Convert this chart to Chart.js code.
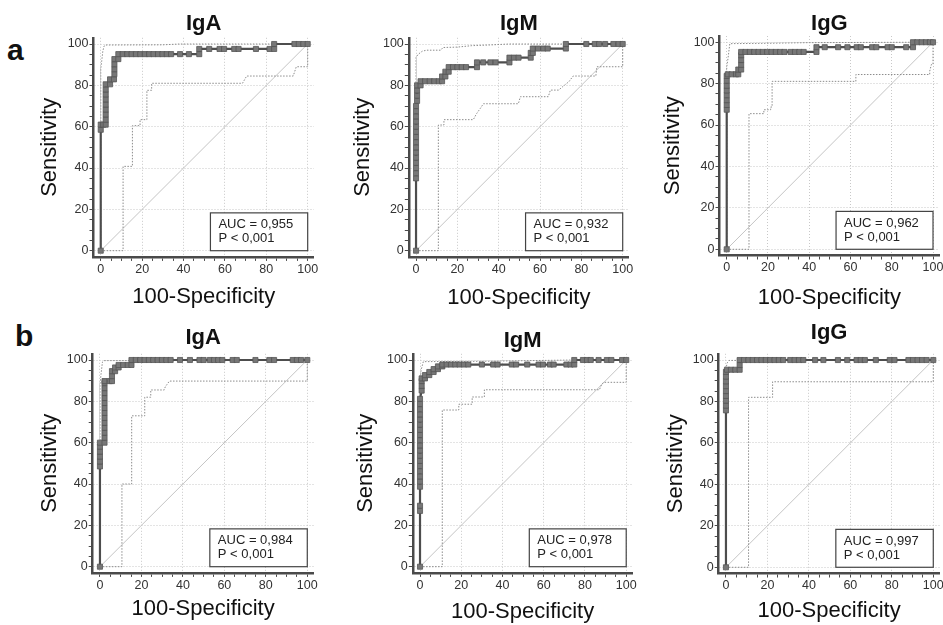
<!DOCTYPE html>
<html>
<head>
<meta charset="utf-8">
<script src="https://cdn.jsdelivr.net/npm/chart.js@4.4.1/dist/chart.umd.min.js"></script>
<style>
  html, body { margin: 0; padding: 0; background: #fff; }
  body { width: 943px; height: 625px; position: relative; overflow: hidden; font-family: "Liberation Sans", Arial, sans-serif; }
  canvas { position: absolute; }
  .tag { position: absolute; font-weight: bold; font-size: 30px; line-height: 1; color: #111; }
</style>
</head>
<body>
<div class="tag" style="left:7px; top:35px;">a</div>
<div class="tag" style="left:15px; top:321px;">b</div>
<script>
/***** data *****/
var titles = ['IgA', 'IgM', 'IgG'];
var aucRowA = ['0,955', '0,932', '0,962'];
var aucRowB = ['0,984', '0,978', '0,997'];
var pLabel = 'P < 0,001';
var majorTicks = [0, 20, 40, 60, 80, 100];
var diagonal = [[0, 0], [100, 100]];

// row a
var rocIgA_a = [[0,0],[0,58.5],[0,61],[1.2,61],[2.4,61],[2.4,63.4],[2.4,65.9],[2.4,68.3],[2.4,70.7],[2.4,73.2],[2.4,75.6],[2.4,78],[2.4,80.5],[4.5,80.5],[4.5,82.9],[6.4,82.9],[6.6,85.4],[6.6,87.8],[6.6,90.2],[6.6,92.7],[8.5,92.7],[8.5,95.1],[10.6,95.1],[12.8,95.1],[14.9,95.1],[17,95.1],[19.1,95.1],[21.3,95.1],[23.4,95.1],[25.5,95.1],[27.7,95.1],[29.8,95.1],[31.9,95.1],[34,95.1],[38.3,95.1],[42.6,95.1],[47.6,95.1],[47.6,97.6],[52.4,97.6],[57.4,97.6],[59.6,97.6],[64.5,97.6],[66.6,97.6],[75,97.6],[81.6,97.6],[83.8,97.6],[83.8,100],[93.6,100],[95.7,100],[97.9,100],[100,100]];
var upIgA_a = [[0,0],[0,88],[0.5,92],[1,96.5],[1.6,99],[2.5,99.5],[30,99.6],[38,100],[100,100]];
var loIgA_a = [[0,0],[10.8,0],[10.8,40.8],[15.3,40.8],[15.3,60.5],[19,60.5],[19,63.4],[22.3,63.4],[22.3,77.6],[24.6,77.6],[24.6,81],[68.5,81],[70.5,84.5],[93,84.5],[94.5,89],[100,89],[100,100]];

var rocIgM_a = [[0,0],[0,35],[0,37.5],[0,40],[0,42.5],[0,45],[0,47.5],[0,50],[0,52.5],[0,55],[0,57.5],[0,60],[0,62.5],[0,65],[0,67.5],[0,70],[0.5,72.5],[0.5,75],[0.5,77.5],[0.5,80],[2.2,80],[2.2,82],[4.4,82],[6.6,82],[8.8,82],[11,82],[12.6,82],[12.6,84.3],[14.2,84.3],[14.2,86.6],[15.8,86.6],[15.8,88.8],[17.9,88.8],[20,88.8],[22.1,88.8],[24.2,88.8],[29.5,88.8],[29.5,91.1],[32.5,91.1],[36,91.1],[38.5,91.1],[45.2,91.1],[45.2,93.4],[47.4,93.4],[49.6,93.4],[55.5,93.4],[55.5,95.7],[56.5,95.7],[56.5,97.8],[59,97.8],[61.6,97.8],[63.7,97.8],[72.5,97.8],[72.5,100],[82.4,100],[86.5,100],[88.6,100],[91.5,100],[95.5,100],[98,100],[100,100]];
var upIgM_a = [[0,0],[0,93.5],[1,95],[3,96.5],[5,97],[12,97],[13,98.3],[20,98.5],[27,99.2],[35,99.5],[45,100],[100,100]];
var loIgM_a = [[0,0],[10.8,0],[10.8,60.8],[13.5,60.8],[13.5,63.4],[27.7,63.4],[29.3,66.3],[31,68.7],[32.6,71.1],[49.5,71.1],[50.5,74.5],[64,74.5],[65,77.7],[69,77.7],[71,79.4],[74,81.8],[76,84.5],[87,84.5],[87.5,89],[100,89],[100,100]];

var rocIgG_a = [[0,0],[0,67.4],[0,69.7],[0,72],[0,74.4],[0,76.7],[0,79],[0,81.4],[0,83.7],[0.5,84.5],[2.4,84.5],[4.5,84.5],[5.6,84.5],[5.6,86.8],[7,86.8],[7,89.1],[7,91.4],[7,93.7],[7,95.3],[9.1,95.3],[11.2,95.3],[13.3,95.3],[15.4,95.3],[17.5,95.3],[19.6,95.3],[21.7,95.3],[23.8,95.3],[25.9,95.3],[28,95.3],[31,95.3],[33.1,95.3],[35.2,95.3],[37.3,95.3],[43.5,95.3],[43.5,97.6],[47.5,97.6],[54,97.6],[58.5,97.6],[63,97.6],[65,97.6],[70.5,97.6],[72.5,97.6],[78,97.6],[80,97.6],[87,97.6],[90.3,97.6],[90.3,100],[92.4,100],[94.5,100],[96.6,100],[98.5,100],[100,100]];
var upIgG_a = [[0,0],[0,88],[0.6,92],[1.5,99.3],[20,99.5],[40,99.8],[100,100]];
var loIgG_a = [[0,0],[10.8,0],[10.8,65.5],[18,65.5],[18,67.4],[21.3,67.4],[21.3,68.7],[22,68.7],[22,81.1],[62.6,81.1],[62.6,84.4],[98.4,84.4],[98.4,86],[99.2,89.2],[100,89.2],[100,100]];

// row b
var rocIgA_b = [[0,0],[0,48.5],[0,50.9],[0,53.3],[0,55.7],[0,58.1],[0,60],[2.2,60],[2.2,62.4],[2.2,64.8],[2.2,67.2],[2.2,69.6],[2.2,72],[2.2,74.4],[2.2,76.8],[2.2,79.2],[2.2,81.6],[2.2,84],[2.2,86.4],[2.2,88.8],[2.2,89.8],[4.7,89.8],[5.8,89.8],[5.8,92.2],[5.8,94.6],[7.3,94.6],[7.3,96.4],[9,96.4],[9,97.6],[11.2,97.6],[13.4,97.6],[15.2,97.6],[15.2,100],[17.3,100],[19.4,100],[21.5,100],[23.6,100],[25.7,100],[27.8,100],[29.9,100],[32,100],[34.1,100],[38.6,100],[43.4,100],[48,100],[50,100],[53,100],[55,100],[57,100],[59,100],[64,100],[66,100],[75,100],[81.7,100],[84,100],[93,100],[95,100],[97,100],[100,100]];
var upIgA_b = [[0,0],[0,88],[0.5,93],[1.2,99],[2,99.7],[100,100]];
var loIgA_b = [[0,0],[10.6,0],[10.6,40],[15.3,40],[15.3,73],[21.6,73],[21.6,82],[24.5,82],[24.5,85.5],[31,85.5],[31.5,87],[33.5,89.8],[100,89.8],[100,100]];

var rocIgM_b = [[0,0],[0,27],[0,29.5],[0,38.7],[0,41.2],[0,43.7],[0,46.2],[0,48.7],[0,51.2],[0,53.7],[0,56.2],[0,58.7],[0,61.2],[0,63.7],[0,66.2],[0,68.7],[0,71.2],[0,73.7],[0,76.2],[0,78.7],[0,81.2],[0.8,85.2],[0.8,87.5],[0.8,89.8],[0.8,91.1],[2.4,91.1],[2.4,92.7],[4.5,92.7],[4.5,94.2],[6.6,94.2],[6.6,95.6],[8.7,95.6],[8.7,96.9],[10.8,96.9],[10.8,97.8],[12.9,97.8],[15,97.8],[17.1,97.8],[19.2,97.8],[21.3,97.8],[23.4,97.8],[30,97.8],[35.5,97.8],[37.6,97.8],[44.5,97.8],[46.6,97.8],[52,97.8],[57.5,97.8],[59.6,97.8],[63,97.8],[64.8,97.8],[71,97.8],[73,97.8],[74.8,97.8],[74.8,100],[79,100],[81,100],[82.8,100],[86.6,100],[90.6,100],[92.8,100],[98,100],[100,100]];
var upIgM_b = [[0,0],[0,90],[0.5,95],[1.6,99.2],[30,99.4],[75,100],[100,100]];
var loIgM_b = [[0,0],[10.8,0],[10.8,75.8],[18.8,75.8],[18.8,78.6],[25.3,78.6],[25.3,82.1],[31.2,82.1],[31.2,85.6],[87,85.6],[88,88],[89,89.2],[100,89.2],[100,100]];

var rocIgG_b = [[0,0],[0,75.7],[0,78],[0,80.4],[0,82.7],[0,85],[0,87.4],[0,89.7],[0,92],[0,94.3],[0.5,95.3],[2.4,95.3],[4.5,95.3],[6.6,95.3],[6.6,97.6],[6.6,100],[8.7,100],[10.8,100],[12.9,100],[15,100],[17.1,100],[19.2,100],[21.3,100],[23.4,100],[25.5,100],[27.6,100],[31,100],[33.1,100],[35.2,100],[37.3,100],[43,100],[47,100],[54,100],[58.5,100],[63,100],[65,100],[67,100],[72.3,100],[79,100],[81.3,100],[88,100],[90.2,100],[92.4,100],[94.6,100],[96.8,100],[100,100]];
var upIgG_b = [[0,0],[0,95],[0.5,98.5],[1.5,99.8],[100,100]];
var loIgG_b = [[0,0],[10.9,0],[10.9,82],[22.5,82],[22.5,89.5],[100,89.5],[100,100]];
/***** !data *****/

var minorTicks = [];
for (var v = 0; v <= 100; v += 5) minorTicks.push(v);

// where each panel sits on the page (px)
var panels = [
    { title: titles[0], auc: aucRowA[0], roc: rocIgA_a, up: upIgA_a, lo: loIgA_a, L: 93.5, R: 313.9, T: 37.8, B: 256.9, titleY: 24.4, yTitleX: 50, xTitleY: 296.5 },
    { title: titles[1], auc: aucRowA[1], roc: rocIgM_a, up: upIgM_a, lo: loIgM_a, L: 408.8, R: 628.9, T: 37.8, B: 256.9, titleY: 23.6, yTitleX: 363, xTitleY: 297.5 },
    { title: titles[2], auc: aucRowA[2], roc: rocIgG_a, up: upIgG_a, lo: loIgG_a, L: 719.5, R: 939.2, T: 36, B: 255.5, titleY: 24, yTitleX: 673, xTitleY: 297.5 },
    { title: titles[0], auc: aucRowB[0], roc: rocIgA_b, up: upIgA_b, lo: loIgA_b, L: 92.7, R: 313.5, T: 353.8, B: 572.9, titleY: 337.7, yTitleX: 49.5, xTitleY: 609 },
    { title: titles[1], auc: aucRowB[1], roc: rocIgM_b, up: upIgM_b, lo: loIgM_b, L: 412.8, R: 632.4, T: 353.8, B: 572.9, titleY: 341, yTitleX: 366, xTitleY: 612 },
    { title: titles[2], auc: aucRowB[2], roc: rocIgG_b, up: upIgG_b, lo: loIgG_b, L: 718.7, R: 939.5, T: 353.8, B: 573.5, titleY: 332.7, yTitleX: 676, xTitleY: 610.5 }
];

var FONT = '"Liberation Sans", Arial, sans-serif';
Chart.defaults.font.family = FONT;
Chart.defaults.color = '#222';

var aucBox = {
    id: 'aucBox',
    afterDatasetsDraw: function (chart, args, opts) {
        var ctx = chart.ctx;
        var x = chart.scales.x, y = chart.scales.y;
        var l = x.getPixelForValue(53), r = x.getPixelForValue(100);
        var t = y.getPixelForValue(18.3), b = y.getPixelForValue(0);
        ctx.save();
        ctx.fillStyle = '#fff';
        ctx.fillRect(l, t, r - l, b - t);
        ctx.strokeStyle = '#444';
        ctx.lineWidth = 1.2;
        ctx.strokeRect(l, t, r - l, b - t);
        ctx.fillStyle = '#222';
        ctx.font = '13px ' + FONT;
        ctx.textBaseline = 'middle';
        ctx.fillText('AUC = ' + opts.auc, l + 8, t + 12);
        ctx.fillText(pLabel, l + 8, t + 26);
        ctx.restore();
    }
};

function axis(isX, text, size, titlePad) {
    return {
        type: 'linear',
        min: isX ? -3.5 : -3,
        max: 103,
        afterBuildTicks: function (ax) {
            ax.ticks = minorTicks.map(function (v) { return { value: v }; });
        },
        afterFit: function (ax) {
            if (isX) ax.height = size; else ax.width = size;
        },
        ticks: {
            autoSkip: false, maxRotation: 0, minRotation: 0, padding: 1,
            color: '#333', font: { size: 12.5 },
            callback: function (v) { return majorTicks.indexOf(v) >= 0 ? String(v) : ''; }
        },
        grid: {
            color: function (c) { return c.tick && majorTicks.indexOf(c.tick.value) >= 0 ? '#c8c8c8' : 'rgba(0,0,0,0)'; },
            lineWidth: 1, tickColor: '#4a4a4a', tickLength: 4, tickWidth: 1
        },
        border: { color: '#4a4a4a', width: 2.5, dash: [1, 2] },
        title: {
            display: true, text: text, color: '#111', font: { size: 22 },
            padding: isX ? { top: 0, bottom: titlePad } : { top: titlePad, bottom: 0 }
        }
    };
}

panels.forEach(function (p) {
    var cx = Math.round(p.yTitleX - 20);
    var cy = Math.round(p.titleY - 20);
    var cw = Math.round(p.R + 14 - cx);
    var ch = Math.round(p.xTitleY + 20 - cy);
    var cv = document.createElement('canvas');
    cv.width = cw; cv.height = ch;
    cv.style.left = cx + 'px'; cv.style.top = cy + 'px';
    cv.style.width = cw + 'px'; cv.style.height = ch + 'px';
    document.body.appendChild(cv);

    var tLh = 22 * 1.2, aLh = 22 * 1.2;
    new Chart(cv, {
        type: 'line',
        data: {
            datasets: [
                { data: p.roc, borderColor: '#4d4d4d', borderWidth: 2.2, pointStyle: 'rect', pointRadius: 3.6,
                  pointBackgroundColor: '#777', pointBorderColor: '#555', pointBorderWidth: 0.8 },
                { data: p.up, borderColor: '#8c8c8c', borderWidth: 1, borderDash: [1.5, 1.5], pointRadius: 0 },
                { data: p.lo, borderColor: '#8c8c8c', borderWidth: 1, borderDash: [1.5, 1.5], pointRadius: 0 },
                { data: diagonal, borderColor: '#c4c4c4', borderWidth: 1, pointRadius: 0 }
            ]
        },
        options: {
            responsive: false,
            animation: false,
            events: [],
            layout: { padding: { left: 0, top: 0, bottom: 0, right: cx + cw - p.R } },
            plugins: {
                legend: { display: false },
                tooltip: { enabled: false },
                title: {
                    display: true, text: p.title, fullSize: false, color: '#111',
                    font: { size: 22, weight: 'bold' },
                    padding: { top: p.titleY - cy - tLh / 2, bottom: p.T - p.titleY - tLh / 2 }
                },
                aucBox: { auc: p.auc }
            },
            scales: {
                x: axis(true, '100-Specificity', cy + ch - p.B, cy + ch - p.xTitleY - aLh / 2),
                y: axis(false, 'Sensitivity', p.L - cx, p.yTitleX - cx - aLh / 2)
            }
        },
        plugins: [aucBox]
    });
});
</script>
</body>
</html>
